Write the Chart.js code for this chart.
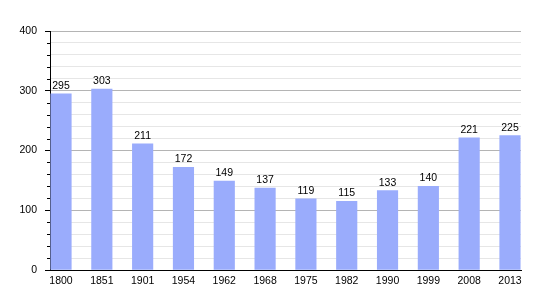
<!DOCTYPE html>
<html>
<head>
<meta charset="utf-8">
<script src="https://cdn.jsdelivr.net/npm/chart.js@4/dist/chart.umd.min.js"></script>
<style>
  html, body { margin: 0; padding: 0; background: #fff; }
  #wrap { width: 550px; height: 300px; }
</style>
</head>
<body>
<div id="wrap"><canvas id="popChart" width="550" height="300"></canvas></div>
<script>
// Population by census year
const years = ['1800', '1851', '1901', '1954', '1962', '1968', '1975', '1982', '1990', '1999', '2008', '2013'];
const population = [295, 303, 211, 172, 149, 137, 119, 115, 133, 140, 221, 225];
const yTicks = [0, 100, 200, 300, 400];

const FONT = 'Liberation Sans, Arial, sans-serif';
const BAR_COLOR = '#9aacfc';

// value above each bar + short minor ticks on the y axis
const labelPlugin = {
    id: 'barLabels',
    afterDatasetsDraw(chart) {
        const c = chart.ctx;
        const meta = chart.getDatasetMeta(0);
        c.save();
        c.font = '10.5px ' + FONT;
        c.fillStyle = '#000';
        c.textAlign = 'center';
        c.textBaseline = 'alphabetic';
        meta.data.forEach((bar, i) => {
            c.fillText(String(population[i]), bar.x, bar.y - 5);
        });
        c.restore();
    },
    afterDraw(chart) {
        const y = chart.scales.y;
        const c = chart.ctx;
        c.save();
        c.strokeStyle = '#000';
        c.lineWidth = 1;
        y.ticks.forEach(t => {
            if (t.value % 100 === 0) return;
            const py = Math.round(y.getPixelForValue(t.value)) + 0.5;
            c.beginPath();
            c.moveTo(y.right - 3, py);
            c.lineTo(y.right, py);
            c.stroke();
        });
        c.restore();
    }
};

const ctx = document.getElementById('popChart').getContext('2d');
const popChart = new Chart(ctx, {
    type: 'bar',
    data: {
        datasets: [{
            data: population.map((v, i) => ({ x: i, y: v })),
            backgroundColor: BAR_COLOR,
            borderWidth: 0,
            barThickness: 20.5
        }]
    },
    options: {
        responsive: false,
        animation: false,
        layout: { padding: { left: 0, right: 29, top: 31, bottom: 0 } },
        plugins: { legend: { display: false }, tooltip: { enabled: false } },
        scales: {
            x: {
                type: 'linear',
                offset: false,
                min: -0.27,
                max: 11.27,
                afterBuildTicks(scale) {
                    scale.ticks = years.map((_, i) => ({ value: i }));
                },
                afterFit(scale) { scale.height = 30; },
                grid: { display: false, drawTicks: false, offset: false },
                border: { display: true, color: '#000', width: 1 },
                ticks: {
                    autoSkip: false,
                    maxRotation: 0,
                    padding: 5,
                    color: '#000',
                    font: { family: FONT, size: 10.5 },
                    callback: (v) => years[v]
                }
            },
            y: {
                min: 0,
                max: 400,
                ticks: {
                    stepSize: 20,
                    autoSkip: false,
                    padding: 8,
                    color: '#000',
                    font: { family: FONT, size: 10.5 },
                    callback: (v) => yTicks.includes(v) ? String(v) : ''
                },
                afterFit(scale) { scale.width = 50; },
                grid: {
                    color: (c) => c.tick && c.tick.value % 100 === 0 ? '#b4b4b4' : '#e6e6e6',
                    tickColor: (c) => c.tick && c.tick.value % 100 === 0 ? '#000' : 'rgba(0,0,0,0)',
                    tickLength: 5,
                    lineWidth: 1
                },
                border: { display: true, color: '#000', width: 1 }
            }
        }
    },
    plugins: [labelPlugin]
});
</script>
</body>
</html>
